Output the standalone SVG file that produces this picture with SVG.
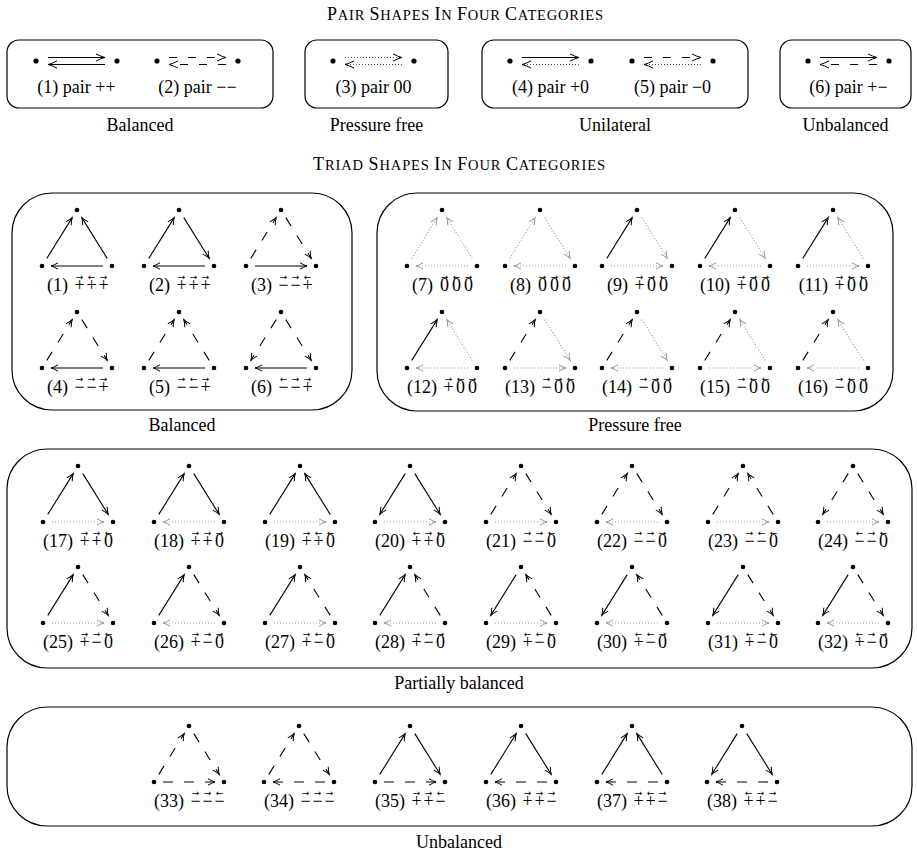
<svg xmlns="http://www.w3.org/2000/svg" width="917" height="852" viewBox="0 0 917 852">
<style>
text{font-family:"Liberation Serif","Times New Roman",serif;fill:#000}
.lb{font-size:18px}
.cat{font-size:18px;text-anchor:middle}
.nm{font-size:18px;text-anchor:end}
.sy{font-size:18px;text-anchor:middle}
.ac{font-family:"DejaVu Sans",sans-serif;font-size:9px;text-anchor:middle}
.box{fill:none;stroke:#000;stroke-width:1.2}
.dot{fill:#000}
.s{fill:none;stroke:#000;stroke-width:1.1;marker-end:url(#ah)}
.d{fill:none;stroke:#000;stroke-width:1.1;stroke-dasharray:10 11;marker-end:url(#ah)}
.o{fill:none;stroke:#999;stroke-width:1.1;stroke-dasharray:1 2;marker-end:url(#ahg)}
.ps{fill:none;stroke:#000;stroke-width:1.1;marker-end:url(#ahp)}
.pd{fill:none;stroke:#000;stroke-width:1.1;stroke-dasharray:8 11;marker-end:url(#ahp)}
.po{fill:none;stroke:#555;stroke-width:1.1;stroke-dasharray:1 2;marker-end:url(#ahp)}
</style>
<defs>
<marker id="ah" markerUnits="userSpaceOnUse" orient="auto" markerWidth="10" markerHeight="10" refX="0" refY="0" viewBox="-8 -5 10 10" overflow="visible">
<path d="M-7,-3.2 Q-3,-0.8 0,0 Q-3,0.8 -7,3.2" fill="none" stroke="#000" stroke-width="1" stroke-dasharray="none"/>
</marker>
<marker id="ahg" markerUnits="userSpaceOnUse" orient="auto" markerWidth="10" markerHeight="10" refX="0" refY="0" viewBox="-8 -5 10 10" overflow="visible">
<path d="M-7,-3.2 Q-3,-0.8 0,0 Q-3,0.8 -7,3.2" fill="none" stroke="#999" stroke-width="1" stroke-dasharray="none"/>
</marker>
<marker id="ahp" markerUnits="userSpaceOnUse" orient="auto" markerWidth="12" markerHeight="12" refX="0" refY="0" viewBox="-10 -6 12 12" overflow="visible">
<path d="M-9,-3.6 Q-4,-0.9 0,0 Q-4,0.9 -9,3.6" fill="none" stroke="#000" stroke-width="1" stroke-dasharray="none"/>
</marker>
<g id="dots"><circle class="dot" cx="0" cy="0" r="2.3"/><circle class="dot" cx="-35" cy="56" r="2.3"/><circle class="dot" cx="35" cy="56" r="2.3"/></g>
<g id="pdots"><circle class="dot" cx="0" cy="0" r="2.6"/><circle class="dot" cx="81" cy="0" r="2.6"/></g>
<path id="Lu" d="M-30.2,48.4 L-4.8,7.6"/>
<path id="Ld" d="M-4.8,7.6 L-30.2,48.4"/>
<path id="Rd" d="M4.8,7.6 L30.2,48.4"/>
<path id="Ru" d="M30.2,48.4 L4.8,7.6"/>
<path id="Br" d="M-26,56 L26,56"/>
<path id="Bl" d="M26,56 L-26,56"/>
</defs>

<!-- Titles -->
<text x="465" y="20" text-anchor="middle" textLength="276" lengthAdjust="spacing"><tspan font-size="18">P</tspan><tspan font-size="14.5">AIR </tspan><tspan font-size="18">S</tspan><tspan font-size="14.5">HAPES </tspan><tspan font-size="18">I</tspan><tspan font-size="14.5">N </tspan><tspan font-size="18">F</tspan><tspan font-size="14.5">OUR </tspan><tspan font-size="18">C</tspan><tspan font-size="14.5">ATEGORIES</tspan></text>
<text x="459" y="170" text-anchor="middle" textLength="292" lengthAdjust="spacing"><tspan font-size="18">T</tspan><tspan font-size="14.5">RIAD </tspan><tspan font-size="18">S</tspan><tspan font-size="14.5">HAPES </tspan><tspan font-size="18">I</tspan><tspan font-size="14.5">N </tspan><tspan font-size="18">F</tspan><tspan font-size="14.5">OUR </tspan><tspan font-size="18">C</tspan><tspan font-size="14.5">ATEGORIES</tspan></text>

<!-- Pair category boxes -->
<g id="pair-boxes">
<rect class="box" x="7" y="40" width="266" height="68" rx="12"/>
<rect class="box" x="305" y="40" width="143" height="68" rx="12"/>
<rect class="box" x="482" y="40" width="266" height="68" rx="12"/>
<rect class="box" x="780" y="40" width="131" height="68" rx="12"/>
<text class="cat" x="140" y="131">Balanced</text>
<text class="cat" x="376.5" y="131">Pressure free</text>
<text class="cat" x="615" y="131">Unilateral</text>
<text class="cat" x="845.5" y="131">Unbalanced</text>
</g>

<g id="pair-1" transform="translate(36,61)"><use href="#pdots"/><g class="edges"><path class="ps" d="M12,-3.5 H69"/><path class="ps" d="M69,3.5 H12"/></g><text class="lb" x="40.5" y="32" text-anchor="middle">(1) pair ++</text></g>
<g id="pair-2" transform="translate(157,61)"><use href="#pdots"/><g class="edges"><path class="pd" d="M12,-3.5 H69"/><path class="pd" d="M69,3.5 H12"/></g><text class="lb" x="40.5" y="32" text-anchor="middle">(2) pair −−</text></g>
<g id="pair-3" transform="translate(333,61)"><use href="#pdots"/><g class="edges"><path class="po" d="M12,-3.5 H69"/><path class="po" d="M69,3.5 H12"/></g><text class="lb" x="40.5" y="32" text-anchor="middle">(3) pair 00</text></g>
<g id="pair-4" transform="translate(510,61)"><use href="#pdots"/><g class="edges"><path class="ps" d="M12,-3.5 H69"/><path class="po" d="M69,3.5 H12"/></g><text class="lb" x="40.5" y="32" text-anchor="middle">(4) pair +0</text></g>
<g id="pair-5" transform="translate(632,61)"><use href="#pdots"/><g class="edges"><path class="pd" d="M12,-3.5 H69"/><path class="po" d="M69,3.5 H12"/></g><text class="lb" x="40.5" y="32" text-anchor="middle">(5) pair −0</text></g>
<g id="pair-6" transform="translate(808,61)"><use href="#pdots"/><g class="edges"><path class="ps" d="M12,-3.5 H69"/><path class="pd" d="M69,3.5 H12"/></g><text class="lb" x="40.5" y="32" text-anchor="middle">(6) pair +−</text></g>

<!-- Triad category boxes -->
<g id="triad-boxes">
<rect class="box" x="12" y="193" width="340" height="217" rx="40"/>
<rect class="box" x="377" y="193" width="516" height="218" rx="40"/>
<rect class="box" x="7" y="449" width="905" height="219" rx="40"/>
<rect class="box" x="7" y="707" width="905" height="119" rx="40"/>
<text class="cat" x="182" y="431">Balanced</text>
<text class="cat" x="635" y="431">Pressure free</text>
<text class="cat" x="459" y="689">Partially balanced</text>
<text class="cat" x="459" y="848">Unbalanced</text>
</g>

<!-- Balanced -->
<g id="triad-1" transform="translate(77,210)"><use href="#dots"/><g class="edges"><use href="#Lu" class="s"/><use href="#Ru" class="s"/><use href="#Bl" class="s"/></g><text class="nm" x="-9" y="81">(1)</text><text class="sy" x="2.5 14.5 26.5" y="81">+++</text><text class="ac" x="2.5 14.5 26.5" y="70">→←→</text></g>
<g id="triad-2" transform="translate(179,210)"><use href="#dots"/><g class="edges"><use href="#Lu" class="s"/><use href="#Rd" class="s"/><use href="#Bl" class="s"/></g><text class="nm" x="-9" y="81">(2)</text><text class="sy" x="2.5 14.5 26.5" y="81">+++</text><text class="ac" x="2.5 14.5 26.5" y="70">→→→</text></g>
<g id="triad-3" transform="translate(281,210)"><use href="#dots"/><g class="edges"><use href="#Lu" class="d"/><use href="#Rd" class="d"/><use href="#Br" class="s"/></g><text class="nm" x="-9" y="81">(3)</text><text class="sy" x="2.5 14.5 26.5" y="81">−−+</text><text class="ac" x="2.5 14.5 26.5" y="70">→→←</text></g>
<g id="triad-4" transform="translate(77,312)"><use href="#dots"/><g class="edges"><use href="#Lu" class="d"/><use href="#Rd" class="d"/><use href="#Bl" class="s"/></g><text class="nm" x="-9" y="81">(4)</text><text class="sy" x="2.5 14.5 26.5" y="81">−−+</text><text class="ac" x="2.5 14.5 26.5" y="70">→→→</text></g>
<g id="triad-5" transform="translate(179,312)"><use href="#dots"/><g class="edges"><use href="#Lu" class="d"/><use href="#Ru" class="d"/><use href="#Bl" class="s"/></g><text class="nm" x="-9" y="81">(5)</text><text class="sy" x="2.5 14.5 26.5" y="81">−−+</text><text class="ac" x="2.5 14.5 26.5" y="70">→←→</text></g>
<g id="triad-6" transform="translate(281,312)"><use href="#dots"/><g class="edges"><use href="#Ld" class="d"/><use href="#Rd" class="d"/><use href="#Bl" class="s"/></g><text class="nm" x="-9" y="81">(6)</text><text class="sy" x="2.5 14.5 26.5" y="81">−−+</text><text class="ac" x="2.5 14.5 26.5" y="70">←→→</text></g>

<!-- Pressure free -->
<g id="triad-7" transform="translate(442,210)"><use href="#dots"/><g class="edges"><use href="#Lu" class="o"/><use href="#Ru" class="o"/><use href="#Bl" class="o"/></g><text class="nm" x="-9" y="81">(7)</text><text class="sy" x="2.5 14.5 26.5" y="81">000</text><text class="ac" x="2.5 14.5 26.5" y="70">→←→</text></g>
<g id="triad-8" transform="translate(540,210)"><use href="#dots"/><g class="edges"><use href="#Lu" class="o"/><use href="#Rd" class="o"/><use href="#Bl" class="o"/></g><text class="nm" x="-9" y="81">(8)</text><text class="sy" x="2.5 14.5 26.5" y="81">000</text><text class="ac" x="2.5 14.5 26.5" y="70">→→→</text></g>
<g id="triad-9" transform="translate(637,210)"><use href="#dots"/><g class="edges"><use href="#Lu" class="s"/><use href="#Rd" class="o"/><use href="#Br" class="o"/></g><text class="nm" x="-9" y="81">(9)</text><text class="sy" x="2.5 14.5 26.5" y="81">+00</text><text class="ac" x="2.5 14.5 26.5" y="70">→→←</text></g>
<g id="triad-10" transform="translate(735,210)"><use href="#dots"/><g class="edges"><use href="#Lu" class="s"/><use href="#Rd" class="o"/><use href="#Bl" class="o"/></g><text class="nm" x="-5" y="81">(10)</text><text class="sy" x="6.5 18.5 30.5" y="81">+00</text><text class="ac" x="6.5 18.5 30.5" y="70">→→→</text></g>
<g id="triad-11" transform="translate(833,210)"><use href="#dots"/><g class="edges"><use href="#Lu" class="s"/><use href="#Ru" class="o"/><use href="#Br" class="o"/></g><text class="nm" x="-5" y="81">(11)</text><text class="sy" x="6.5 18.5 30.5" y="81">+00</text><text class="ac" x="6.5 18.5 30.5" y="70">→←←</text></g>
<g id="triad-12" transform="translate(442,312)"><use href="#dots"/><g class="edges"><use href="#Lu" class="s"/><use href="#Ru" class="o"/><use href="#Bl" class="o"/></g><text class="nm" x="-5" y="81">(12)</text><text class="sy" x="6.5 18.5 30.5" y="81">+00</text><text class="ac" x="6.5 18.5 30.5" y="70">→←→</text></g>
<g id="triad-13" transform="translate(540,312)"><use href="#dots"/><g class="edges"><use href="#Lu" class="d"/><use href="#Rd" class="o"/><use href="#Br" class="o"/></g><text class="nm" x="-5" y="81">(13)</text><text class="sy" x="6.5 18.5 30.5" y="81">−00</text><text class="ac" x="6.5 18.5 30.5" y="70">→→←</text></g>
<g id="triad-14" transform="translate(637,312)"><use href="#dots"/><g class="edges"><use href="#Lu" class="d"/><use href="#Rd" class="o"/><use href="#Bl" class="o"/></g><text class="nm" x="-5" y="81">(14)</text><text class="sy" x="6.5 18.5 30.5" y="81">−00</text><text class="ac" x="6.5 18.5 30.5" y="70">→→→</text></g>
<g id="triad-15" transform="translate(735,312)"><use href="#dots"/><g class="edges"><use href="#Lu" class="d"/><use href="#Ru" class="o"/><use href="#Br" class="o"/></g><text class="nm" x="-5" y="81">(15)</text><text class="sy" x="6.5 18.5 30.5" y="81">−00</text><text class="ac" x="6.5 18.5 30.5" y="70">→←←</text></g>
<g id="triad-16" transform="translate(833,312)"><use href="#dots"/><g class="edges"><use href="#Lu" class="d"/><use href="#Ru" class="o"/><use href="#Bl" class="o"/></g><text class="nm" x="-5" y="81">(16)</text><text class="sy" x="6.5 18.5 30.5" y="81">−00</text><text class="ac" x="6.5 18.5 30.5" y="70">→←→</text></g>

<!-- Partially balanced -->
<g id="triad-17" transform="translate(78,466)"><use href="#dots"/><g class="edges"><use href="#Lu" class="s"/><use href="#Rd" class="s"/><use href="#Br" class="o"/></g><text class="nm" x="-5" y="81">(17)</text><text class="sy" x="6.5 18.5 30.5" y="81">++0</text><text class="ac" x="6.5 18.5 30.5" y="70">→→←</text></g>
<g id="triad-18" transform="translate(189,466)"><use href="#dots"/><g class="edges"><use href="#Lu" class="s"/><use href="#Rd" class="s"/><use href="#Bl" class="o"/></g><text class="nm" x="-5" y="81">(18)</text><text class="sy" x="6.5 18.5 30.5" y="81">++0</text><text class="ac" x="6.5 18.5 30.5" y="70">→→→</text></g>
<g id="triad-19" transform="translate(300,466)"><use href="#dots"/><g class="edges"><use href="#Lu" class="s"/><use href="#Ru" class="s"/><use href="#Br" class="o"/></g><text class="nm" x="-5" y="81">(19)</text><text class="sy" x="6.5 18.5 30.5" y="81">++0</text><text class="ac" x="6.5 18.5 30.5" y="70">→←←</text></g>
<g id="triad-20" transform="translate(410,466)"><use href="#dots"/><g class="edges"><use href="#Ld" class="s"/><use href="#Rd" class="s"/><use href="#Br" class="o"/></g><text class="nm" x="-5" y="81">(20)</text><text class="sy" x="6.5 18.5 30.5" y="81">++0</text><text class="ac" x="6.5 18.5 30.5" y="70">←→←</text></g>
<g id="triad-21" transform="translate(521,466)"><use href="#dots"/><g class="edges"><use href="#Lu" class="d"/><use href="#Rd" class="d"/><use href="#Br" class="o"/></g><text class="nm" x="-5" y="81">(21)</text><text class="sy" x="6.5 18.5 30.5" y="81">−−0</text><text class="ac" x="6.5 18.5 30.5" y="70">→→←</text></g>
<g id="triad-22" transform="translate(632,466)"><use href="#dots"/><g class="edges"><use href="#Lu" class="d"/><use href="#Rd" class="d"/><use href="#Bl" class="o"/></g><text class="nm" x="-5" y="81">(22)</text><text class="sy" x="6.5 18.5 30.5" y="81">−−0</text><text class="ac" x="6.5 18.5 30.5" y="70">→→→</text></g>
<g id="triad-23" transform="translate(743,466)"><use href="#dots"/><g class="edges"><use href="#Lu" class="d"/><use href="#Ru" class="d"/><use href="#Br" class="o"/></g><text class="nm" x="-5" y="81">(23)</text><text class="sy" x="6.5 18.5 30.5" y="81">−−0</text><text class="ac" x="6.5 18.5 30.5" y="70">→←←</text></g>
<g id="triad-24" transform="translate(853,466)"><use href="#dots"/><g class="edges"><use href="#Ld" class="d"/><use href="#Rd" class="d"/><use href="#Br" class="o"/></g><text class="nm" x="-5" y="81">(24)</text><text class="sy" x="6.5 18.5 30.5" y="81">−−0</text><text class="ac" x="6.5 18.5 30.5" y="70">←→←</text></g>
<g id="triad-25" transform="translate(78,567)"><use href="#dots"/><g class="edges"><use href="#Lu" class="s"/><use href="#Rd" class="d"/><use href="#Br" class="o"/></g><text class="nm" x="-5" y="81">(25)</text><text class="sy" x="6.5 18.5 30.5" y="81">+−0</text><text class="ac" x="6.5 18.5 30.5" y="70">→→←</text></g>
<g id="triad-26" transform="translate(189,567)"><use href="#dots"/><g class="edges"><use href="#Lu" class="s"/><use href="#Rd" class="d"/><use href="#Bl" class="o"/></g><text class="nm" x="-5" y="81">(26)</text><text class="sy" x="6.5 18.5 30.5" y="81">+−0</text><text class="ac" x="6.5 18.5 30.5" y="70">→→→</text></g>
<g id="triad-27" transform="translate(300,567)"><use href="#dots"/><g class="edges"><use href="#Lu" class="s"/><use href="#Ru" class="d"/><use href="#Br" class="o"/></g><text class="nm" x="-5" y="81">(27)</text><text class="sy" x="6.5 18.5 30.5" y="81">+−0</text><text class="ac" x="6.5 18.5 30.5" y="70">→←←</text></g>
<g id="triad-28" transform="translate(410,567)"><use href="#dots"/><g class="edges"><use href="#Lu" class="s"/><use href="#Ru" class="d"/><use href="#Bl" class="o"/></g><text class="nm" x="-5" y="81">(28)</text><text class="sy" x="6.5 18.5 30.5" y="81">+−0</text><text class="ac" x="6.5 18.5 30.5" y="70">→←→</text></g>
<g id="triad-29" transform="translate(521,567)"><use href="#dots"/><g class="edges"><use href="#Ld" class="s"/><use href="#Ru" class="d"/><use href="#Br" class="o"/></g><text class="nm" x="-5" y="81">(29)</text><text class="sy" x="6.5 18.5 30.5" y="81">+−0</text><text class="ac" x="6.5 18.5 30.5" y="70">←←←</text></g>
<g id="triad-30" transform="translate(632,567)"><use href="#dots"/><g class="edges"><use href="#Ld" class="s"/><use href="#Ru" class="d"/><use href="#Bl" class="o"/></g><text class="nm" x="-5" y="81">(30)</text><text class="sy" x="6.5 18.5 30.5" y="81">+−0</text><text class="ac" x="6.5 18.5 30.5" y="70">←←→</text></g>
<g id="triad-31" transform="translate(743,567)"><use href="#dots"/><g class="edges"><use href="#Ld" class="s"/><use href="#Rd" class="d"/><use href="#Br" class="o"/></g><text class="nm" x="-5" y="81">(31)</text><text class="sy" x="6.5 18.5 30.5" y="81">+−0</text><text class="ac" x="6.5 18.5 30.5" y="70">←→←</text></g>
<g id="triad-32" transform="translate(853,567)"><use href="#dots"/><g class="edges"><use href="#Ld" class="s"/><use href="#Rd" class="d"/><use href="#Bl" class="o"/></g><text class="nm" x="-5" y="81">(32)</text><text class="sy" x="6.5 18.5 30.5" y="81">+−0</text><text class="ac" x="6.5 18.5 30.5" y="70">←→→</text></g>

<!-- Unbalanced -->
<g id="triad-33" transform="translate(189,726)"><use href="#dots"/><g class="edges"><use href="#Lu" class="d"/><use href="#Rd" class="d"/><use href="#Br" class="d"/></g><text class="nm" x="-5" y="81">(33)</text><text class="sy" x="6.5 18.5 30.5" y="81">−−−</text><text class="ac" x="6.5 18.5 30.5" y="70">→→←</text></g>
<g id="triad-34" transform="translate(299,726)"><use href="#dots"/><g class="edges"><use href="#Lu" class="d"/><use href="#Rd" class="d"/><use href="#Bl" class="d"/></g><text class="nm" x="-5" y="81">(34)</text><text class="sy" x="6.5 18.5 30.5" y="81">−−−</text><text class="ac" x="6.5 18.5 30.5" y="70">→→→</text></g>
<g id="triad-35" transform="translate(410,726)"><use href="#dots"/><g class="edges"><use href="#Lu" class="s"/><use href="#Rd" class="s"/><use href="#Br" class="d"/></g><text class="nm" x="-5" y="81">(35)</text><text class="sy" x="6.5 18.5 30.5" y="81">++−</text><text class="ac" x="6.5 18.5 30.5" y="70">→→←</text></g>
<g id="triad-36" transform="translate(521,726)"><use href="#dots"/><g class="edges"><use href="#Lu" class="s"/><use href="#Rd" class="s"/><use href="#Bl" class="d"/></g><text class="nm" x="-5" y="81">(36)</text><text class="sy" x="6.5 18.5 30.5" y="81">++−</text><text class="ac" x="6.5 18.5 30.5" y="70">→→→</text></g>
<g id="triad-37" transform="translate(632,726)"><use href="#dots"/><g class="edges"><use href="#Lu" class="s"/><use href="#Ru" class="s"/><use href="#Bl" class="d"/></g><text class="nm" x="-5" y="81">(37)</text><text class="sy" x="6.5 18.5 30.5" y="81">++−</text><text class="ac" x="6.5 18.5 30.5" y="70">→←→</text></g>
<g id="triad-38" transform="translate(742,726)"><use href="#dots"/><g class="edges"><use href="#Ld" class="s"/><use href="#Rd" class="s"/><use href="#Bl" class="d"/></g><text class="nm" x="-5" y="81">(38)</text><text class="sy" x="6.5 18.5 30.5" y="81">++−</text><text class="ac" x="6.5 18.5 30.5" y="70">←→→</text></g>
</svg>
